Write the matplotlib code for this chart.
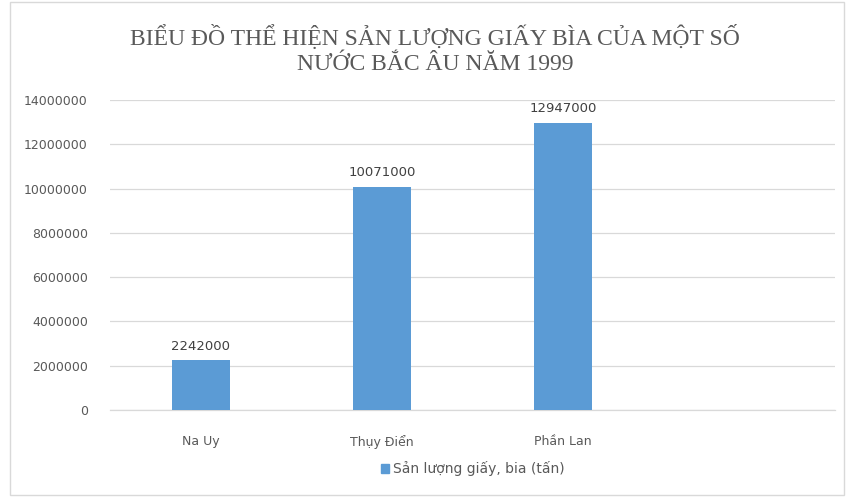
import matplotlib.pyplot as plt
from matplotlib.patches import Rectangle

# dữ liệu
categories = ["Na Uy", "Thụy Điển", "Phần Lan", ""]
values = [2242000, 10071000, 12947000, None]
yticks = [0, 2000000, 4000000, 6000000, 8000000, 10000000, 12000000, 14000000]

bar_color = "#5B9BD5"
text_color = "#595959"

fig = plt.figure(figsize=(8.47, 4.97), dpi=100)
ax = fig.add_axes([0.130, 0.175, 0.856, 0.624])

x = list(range(len(categories)))
for i, v in enumerate(values):
    if v is None:
        continue
    ax.bar(i, v, width=0.32, color=bar_color, zorder=3)
    ax.text(i, v + 350000, str(v), ha="center", va="bottom",
            fontsize=9.5, color="#404040", family="DejaVu Sans")

ax.set_xlim(-0.5, len(categories) - 0.5)
ax.set_ylim(0, 14000000)
ax.set_yticks(yticks)
ax.set_yticklabels([str(t) for t in yticks])
ax.set_xticks(x)
ax.set_xticklabels(categories)
ax.tick_params(axis="both", length=0, labelsize=9, labelcolor=text_color)
ax.tick_params(axis="x", pad=18)
ax.tick_params(axis="y", pad=16)

ax.grid(axis="y", color="#D9D9D9", linewidth=0.9, zorder=0)
for s in ["top", "right", "left"]:
    ax.spines[s].set_visible(False)
ax.spines["bottom"].set_color("#D9D9D9")
ax.spines["bottom"].set_linewidth(0.9)

fig.text(0.514, 0.900, "BIỂU ĐỒ THỂ HIỆN SẢN LƯỢNG GIẤY BÌA CỦA MỘT SỐ\nNƯỚC BẮC ÂU NĂM 1999",
         ha="center", va="center", fontsize=17, color=text_color,
         family="Liberation Serif", linespacing=1.25)

# chú giải
leg = ax.legend([Rectangle((0, 0), 1, 1, color=bar_color)],
                ["Sản lượng giấy, bia (tấn)"],
                loc="center", bbox_to_anchor=(0.5, -0.19), frameon=False,
                fontsize=10, handlelength=0.6, handleheight=0.6,
                handletextpad=0.3, labelcolor=text_color)

# viền ngoài
fig.patches.append(Rectangle((0.012, 0.004), 0.984, 0.992, transform=fig.transFigure,
                             fill=False, edgecolor="#D9D9D9", linewidth=1))

fig.savefig("out.png", dpi=100, facecolor="white")
